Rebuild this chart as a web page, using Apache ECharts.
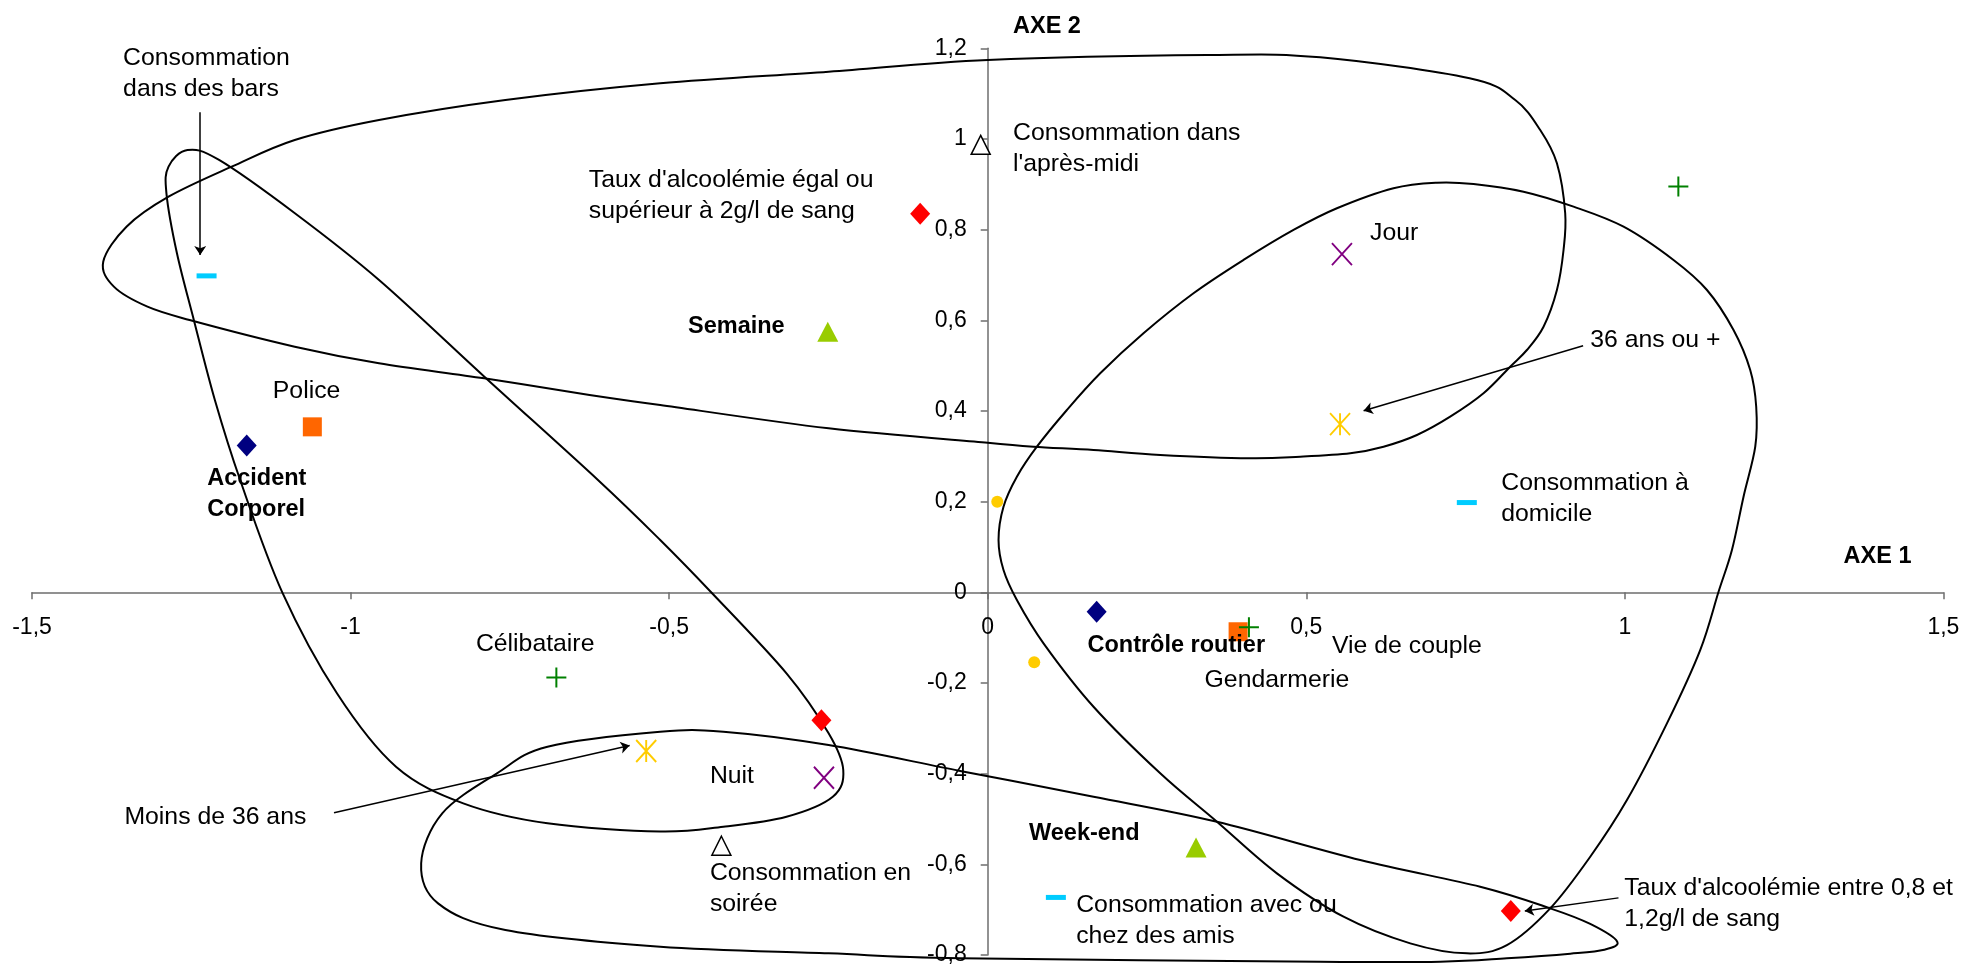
<!DOCTYPE html>
<html><head><meta charset="utf-8">
<script src="https://cdn.jsdelivr.net/npm/echarts@6/dist/echarts.min.js"></script>
<style>html,body{margin:0;padding:0;background:#fff}#c{width:1964px;height:964px}</style>
</head><body><div id="c"></div>
<script>
// ---------- DATA ----------
const navyDiamonds   = [[-1.163, 0.324], [0.171, -0.043]];            // Accident corporel, Contrôle routier
const orangeSquares  = [[-1.060, 0.365], [0.393, -0.087]];            // Police, Gendarmerie
const greenTriangles = [[-0.251, 0.575], [0.327, -0.563]];            // Semaine, Week-end
const purpleCrosses  = [[0.556, 0.746], [-0.257, -0.409]];            // Jour, Nuit
const yellowStars    = [[0.553, 0.371], [-0.536, -0.350]];            // 36 ans ou +, Moins de 36 ans
const greenPlus      = [[-0.677, -0.188], [0.410, -0.077], [1.084, 0.895]]; // Célibataire, Vie de couple, (sans libellé)
const redDiamonds    = [[-0.106, 0.835], [-0.261, -0.282], [0.821, -0.703]]; // Taux >= 2g/l, (sans libellé), 0,8-1,2g/l
const cyanDashes     = [[-1.226, 0.698], [0.752, 0.198], [0.107, -0.673]];  // bars, domicile, amis
const openTriangles  = [[-0.011, 0.987], [-0.418, -0.559]];           // après-midi, soirée
const yellowDots     = [[0.015, 0.200], [0.073, -0.154]];

// Tick values
const xTickValues = [-1.5, -1, -0.5, 0, 0.5, 1, 1.5];
const yTickValues = [-0.8, -0.6, -0.4, -0.2, 0, 0.2, 0.4, 0.6, 0.8, 1, 1.2];

// Text annotations: [text, x, y (top-left anchor in data units), bold]
const labelTexts = [
  ["Consommation\ndans des bars", -1.357, 1.2195, false],
  ["Police", -1.122, 0.486, false],
  ["Accident\nCorporel", -1.225, 0.293, true],
  ["Taux d'alcoolémie égal ou\nsupérieur à 2g/l de sang", -0.626, 0.9515, false],
  ["Consommation dans\nl'après-midi", 0.0397, 1.0552, false],
  ["Semaine", -0.4704, 0.6283, true],
  ["Jour", 0.6002, 0.8334, false],
  ["36 ans ou +", 0.9457, 0.598, false],
  ["Consommation à\ndomicile", 0.806, 0.2826, false],
  ["AXE 2", 0.0397, 1.2894, true],
  ["AXE 1", 1.3433, 0.1202, true],
  ["Célibataire", -0.8033, -0.0726, false],
  ["Contrôle routier", 0.1566, -0.0761, true],
  ["Vie de couple", 0.5404, -0.0761, false],
  ["Gendarmerie", 0.3404, -0.152, false],
  ["Moins de 36 ans", -1.355, -0.4533, false],
  ["Nuit", -0.436, -0.3638, false],
  ["Consommation en\nsoirée", -0.436, -0.5784, false],
  ["Week-end", 0.0648, -0.4902, true],
  ["Consommation avec ou\nchez des amis", 0.1389, -0.6484, false],
  ["Taux d'alcoolémie entre 0,8 et\n1,2g/l de sang", 0.9991, -0.6115, false]
];

// Arrows: [from, to] in data units
const arrows = [
  [[-1.236, 1.059], [-1.236, 0.744]],
  [[0.9345, 0.544], [0.590, 0.4006]],
  [[-1.026, -0.486], [-0.562, -0.338]],
  [[0.990, -0.674], [0.843, -0.703]]
];

// Hand-drawn closed curves (data units)
const curveA = [[-1.3882,0.7293],[-1.3517,0.8065],[-1.2857,0.8727],[-1.1866,0.9389],[-1.0876,0.9978],[-0.9554,1.0419],[-0.757,1.086],[-0.514,1.1229],[-0.2497,1.1485],[0,1.1743],[0.3445,1.1853],[0.5219,1.1802],[0.7564,1.1339],[0.828,1.086],[0.8672,1.0197],[0.8934,0.9464],[0.9064,0.8361],[0.9038,0.7551],[0.8934,0.6669],[0.8724,0.5859],[0.8463,0.5345],[0.8201,0.4977],[0.7782,0.439],[0.7259,0.3874],[0.6737,0.347],[0.6213,0.3212],[0.569,0.3066],[0.4905,0.2991],[0.412,0.2956],[0.2708,0.3029],[0.1661,0.3139],[0.0719,0.3212],[0,0.33],[-0.2497,0.3618],[-0.514,0.4132],[-0.6249,0.4353],[-0.7903,0.4721],[-0.9554,0.5052],[-1.0876,0.5418],[-1.2527,0.6007],[-1.3188,0.63],[-1.3715,0.6742]];
const curveB = [[-1.256,0.9757],[-1.2857,0.9389],[-1.289,0.8802],[-1.2725,0.7479],[-1.246,0.6007],[-1.213,0.4242],[-1.1733,0.2477],[-1.1072,0],[-1.0214,-0.2228],[-0.9287,-0.3847],[-0.8231,-0.4655],[-0.6909,-0.5096],[-0.514,-0.5277],[-0.4149,-0.5171],[-0.3158,-0.495],[-0.2431,-0.4509],[-0.2267,-0.392],[-0.2497,-0.3111],[-0.3158,-0.1787],[-0.4348,0.0013],[-0.514,0.1154],[-0.6117,0.2477],[-0.79,0.4756],[-0.9553,0.6889],[-1.0874,0.8361],[-1.2064,0.9537]];
const curveC = [[-0.8892,-0.5978],[-0.8561,-0.4875],[-0.7702,-0.3993],[-0.6909,-0.3406],[-0.514,-0.3075],[-0.4149,-0.3075],[-0.2497,-0.3369],[-0.0432,-0.3939],[0.1661,-0.4509],[0.3598,-0.5061],[0.5847,-0.5905],[0.773,-0.6495],[0.8829,-0.6971],[0.9457,-0.7315],[0.9881,-0.7706],[0.9677,-0.7883],[0.9144,-0.7972],[0.8149,-0.8074],[0.7102,-0.8149],[0.5219,-0.8149],[-0.0432,-0.8074],[-0.2497,-0.7964],[-0.514,-0.7818],[-0.757,-0.745],[-0.8627,-0.6861]];
const curveD = [[0.7051,0.9036],[0.7625,0.9007],[0.841,0.8837],[0.9195,0.8507],[0.998,0.8065],[1.0764,0.7331],[1.1289,0.6669],[1.1706,0.5786],[1.1968,0.4904],[1.2062,0.4094],[1.2047,0.3212],[1.1863,0.2109],[1.1681,0.0933],[1.1471,0.0013],[1.1183,-0.1273],[1.0661,-0.289],[1.0033,-0.4582],[0.9457,-0.5833],[0.8829,-0.6971],[0.8149,-0.7781],[0.7521,-0.7964],[0.6632,-0.7743],[0.5585,-0.7156],[0.4539,-0.6199],[0.3598,-0.5061],[0.2708,-0.3993],[0.1661,-0.2524],[0.0876,-0.1125],[0.0458,-0.017],[0.0248,0.0492],[0.017,0.1154],[0.0248,0.1888],[0.0458,0.255],[0.0772,0.3212],[0.1243,0.4022],[0.1766,0.4831],[0.2445,0.5714],[0.323,0.6596],[0.4015,0.7331],[0.48,0.7993],[0.5481,0.8471],[0.6369,0.8913]];
const curves = [curveA, curveB, curveC, curveD];

// ---------- CHART ----------
const FONT = 'Liberation Sans, Arial, sans-serif';
const fmt = v => String(Math.round(v * 10) / 10).replace('.', ',');
const chart = echarts.init(document.getElementById('c'));

function renderCurve(params, api) {
  const pts = curves[api.value(2)].map(p => api.coord(p));
  const n = pts.length, t = 1 / 6;
  let d = 'M' + pts[0][0] + ',' + pts[0][1];
  for (let i = 0; i < n; i++) {
    const p0 = pts[(i - 1 + n) % n], p1 = pts[i], p2 = pts[(i + 1) % n], p3 = pts[(i + 2) % n];
    const c1 = [p1[0] + (p2[0] - p0[0]) * t, p1[1] + (p2[1] - p0[1]) * t];
    const c2 = [p2[0] - (p3[0] - p1[0]) * t, p2[1] - (p3[1] - p1[1]) * t];
    d += 'C' + c1[0] + ',' + c1[1] + ' ' + c2[0] + ',' + c2[1] + ' ' + p2[0] + ',' + p2[1];
  }
  d += 'Z';
  return { type: 'path', shape: { pathData: d }, style: { fill: 'none', stroke: '#000', lineWidth: 2 } };
}

function markerSeries(data, symbol, size, style) {
  return { type: 'scatter', data: data, symbol: symbol, symbolSize: size,
           itemStyle: Object.assign({ opacity: 1 }, style), clip: false, silent: true, z: 5 };
}
const strokeStyle = c => ({ color: 'rgba(0,0,0,0)', borderColor: c, borderWidth: 2 });

function textSeries(data, labelOpt) {
  return { type: 'scatter', silent: true, clip: false, z: 6, symbol: 'circle', symbolSize: 0.01,
    itemStyle: { color: 'rgba(0,0,0,0)', opacity: 1 },
    label: Object.assign({ show: true, color: '#000', fontFamily: FONT, formatter: p => p.data.name }, labelOpt),
    data: data };
}

const axisCommon = {
  type: 'value',
  axisLine: { show: true, onZero: true, lineStyle: { color: '#6e6e6e', width: 1.5 } },
  axisTick: { show: true, length: 7, lineStyle: { color: '#6e6e6e', width: 1.5 } },
  axisLabel: { show: false },
  splitLine: { show: false }
};

chart.setOption({
  animation: false,
  backgroundColor: '#fff',
  textStyle: { fontFamily: FONT },
  grid: { left: 32, right: 20.6, top: 48.3, bottom: 9, containLabel: false, outerBoundsMode: 'none' },
  xAxis: Object.assign({}, axisCommon, { min: -1.5, max: 1.5, interval: 0.5 }),
  yAxis: Object.assign({}, axisCommon, { min: -0.8, max: 1.2, interval: 0.2 }),
  series: [
    { type: 'custom', renderItem: renderCurve, clip: false, silent: true, z: 3,
      data: curves.map((c, i) => [c[0][0], c[0][1], i]) },
    { type: 'lines', coordinateSystem: 'cartesian2d', silent: true, z: 4,
      symbol: ['none', 'arrow'], symbolSize: 9,
      lineStyle: { color: '#000', width: 1.5, opacity: 1 },
      data: arrows.map(a => ({ coords: a })) },
    markerSeries(navyDiamonds, 'diamond', [20, 22], { color: '#000080' }),
    markerSeries(orangeSquares, 'rect', [19, 19], { color: '#FF6600' }),
    markerSeries(greenTriangles, 'triangle', [21, 20], { color: '#99CC00' }),
    markerSeries(purpleCrosses, 'path://M0,0L20,22M20,0L0,22', [20, 22], strokeStyle('#800080')),
    markerSeries(yellowStars, 'path://M0,0L20,22M20,0L0,22M10,0L10,22', [20, 22], strokeStyle('#FFCC00')),
    markerSeries(greenPlus, 'path://M10,0L10,20M0,10L20,10', [20, 20], strokeStyle('#008000')),
    markerSeries(redDiamonds, 'diamond', [20, 22], { color: '#FF0000' }),
    markerSeries(cyanDashes, 'rect', [20, 5], { color: '#00CCFF' }),
    markerSeries(openTriangles, 'triangle', [19, 19], { color: '#fff', borderColor: '#000', borderWidth: 1.5 }),
    markerSeries(yellowDots, 'circle', 12, { color: '#FFCC00' }),
    // tick labels on the axes crossing at zero
    textSeries(xTickValues.map(v => ({ name: fmt(v), value: [v, 0] })),
      { position: [0, 0], align: 'center', verticalAlign: 'middle', offset: [0, 35], fontSize: 23 }),
    textSeries(yTickValues.map(v => ({ name: fmt(v), value: [0, v] })),
      { position: [0, 0], align: 'right', verticalAlign: 'middle', offset: [-21, 0], fontSize: 23 }),
    // annotations
    textSeries(labelTexts.map(l => ({ name: l[0], value: [l[1], l[2]],
        label: { fontWeight: l[3] ? 'bold' : 'normal', fontSize: l[3] ? 23.5 : 24.8 } })),
      { position: [0, 0], align: 'left', verticalAlign: 'top', lineHeight: 31, offset: [0, 3.5] })
  ]
});
</script>
</body></html>
